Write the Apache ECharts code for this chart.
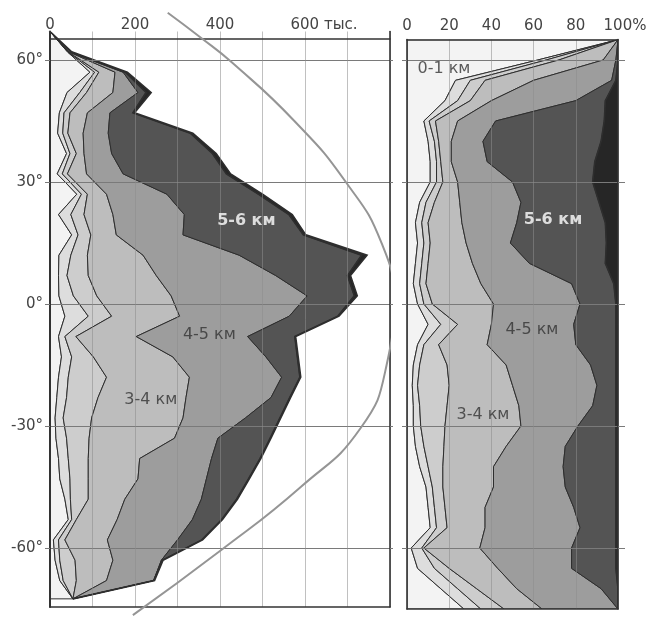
<!DOCTYPE html>
<html>
<head>
<meta charset="utf-8">
<script src="https://cdn.jsdelivr.net/npm/echarts@6/dist/echarts.min.js"></script>
<style>
  html, body { margin: 0; padding: 0; background: #ffffff; }
  #chart { width: 656px; height: 617px; }
</style>
</head>
<body>
<div id="chart"></div>
<script>
// Latitudes of the absolute-count profile (degrees)
const latCounts = [67, 62, 57, 52, 47, 42, 37, 32, 27, 22, 17, 12, 7, 2, -3, -8, -13, -18, -23, -28, -33, -38, -43, -48, -53, -58, -63, -68, -72.5];

// Counts per depth band, thousands
const cnt0_1 = [0, 41, 94, 40, 22, 18, 39, 17, 63, 20, 51, 21, 20, 21, 35, 20, 27, 20, 16, 12, 14, 20, 23, 35, 43, 8, 12, 23, 54];
const cnt1_2 = [0, 1, 11, 30, 11, 12, 8, 12, 11, 29, 15, 28, 20, 34, 55, 15, 24, 23, 23, 19, 25, 23, 24, 13, 8, 12, 11, 8, 0];
const cnt2_3 = [0, 1, 10, 16, 14, 12, 15, 12, 14, 31, 30, 39, 50, 55, 55, 26, 51, 90, 74, 67, 53, 47, 43, 42, 11, 15, 36, 31, 0];
const cnt3_4 = [0, 1, 38, 62, 41, 36, 18, 45, 45, 68, 60, 131, 160, 175, 160, 142, 187, 195, 207, 215, 201, 121, 117, 86, 96, 100, 89, 71, 0];
const cnt4_5 = [0, 1, 19, 59, 53, 59, 65, 86, 142, 168, 157, 226, 281, 320, 258, 262, 219, 217, 200, 147, 102, 169, 161, 180, 177, 165, 114, 111, 0];
const cnt5_6 = [0, 5, 5, 19, 54, 193, 237, 243, 215, 246, 283, 288, 169, 111, 114, 111, 74, 43, 44, 81, 123, 114, 99, 83, 69, 57, 2, 0, 0];
const cnt6_7 = [0, 1, 5, 12, 4, 6, 9, 10, 10, 8, 6, 13, 7, 7, 3, 2, 2, 2, 2, 2, 2, 2, 2, 2, 2, 2, 2, 2, 0];

// Latitudes of the percentage profile (degrees)
const latShares = [65, 60, 55, 50, 45, 40, 35, 30, 25, 20, 15, 10, 5, 0, -5, -10, -15, -20, -25, -30, -35, -40, -45, -50, -55, -60, -65, -70, -75];

// Share of each depth band, %
const pct0_1 = [100, 62, 23, 18, 8, 10, 11, 11, 6, 4, 5, 4, 3, 5, 10, 5, 3, 2.5, 3, 3, 4, 6, 9, 10, 11, 2, 5, 16, 27];
const pct1_2 = [0, 4, 7, 6, 2.5, 3, 3, 3, 3, 3, 3, 3, 3, 3, 6, 3, 3, 2.5, 3, 3.5, 4, 4, 3, 3, 3, 5, 8, 8, 8];
const pct2_3 = [0, 6, 7, 6, 3, 2, 2, 3, 4, 3, 3, 3, 3, 4, 8, 7, 13, 15, 13, 11.5, 9.5, 7, 5, 5, 5, 1, 7, 9, 11];
const pct3_4 = [0, 21, 23, 10, 10.5, 6, 5, 7, 12, 16, 17, 21, 26, 29, 16, 23, 28, 30, 34, 36, 29.5, 24, 24, 19, 18, 26.5, 23, 19, 18];
const pct4_5 = [0, 6, 37, 40, 18, 15, 17, 26, 29, 26, 21, 27, 43, 41, 39, 42, 40, 40, 35, 27, 28, 33, 34, 42, 45, 43.5, 35, 40, 36];
const pct5_6 = [0, 1, 2, 14, 51.5, 56, 51, 38, 37, 42, 45.5, 36, 20, 17, 20, 19, 12, 9, 11, 18, 24, 25, 24, 20, 17, 21, 21, 8, 0];
const pct6_7 = [0, 0, 1, 6, 6.5, 8, 11, 12, 9, 6, 5.5, 6, 2, 1, 1, 1, 1, 1, 1, 1, 1, 1, 1, 1, 1, 1, 1, 0, 0];

// Reference curve on the count panel: [thousands, latitude]
const refCurve = [[277, 71.6], [352, 65.7], [429, 59.3], [575, 45], [696, 30], [780, 15], [808, 1], [792, -15], [731, -30.5], [590, -45], [403, -60.5], [195, -76.5]];

// Axis tick labels
const countTicks = [0, 200, 400, 600];
const shareTicks = [0, 20, 40, 60, 80, 100];
const latTicks = [-60, -30, 0, 30, 60];

// Band annotations: [text, x value, latitude]
const countNotes = [['5-6 км', 462, 20.4], ['4-5 км', 375, -7.6], ['3-4 км', 237, -23.6]];
const shareNotes = [['0-1 км', 17.5, 57.8], ['5-6 км', 69.2, 20.7], ['4-5 км', 59.2, -6.4], ['3-4 км', 36, -27.3]];

const countBands = [cnt0_1, cnt1_2, cnt2_3, cnt3_4, cnt4_5, cnt5_6, cnt6_7];
const shareBands = [pct0_1, pct1_2, pct2_3, pct3_4, pct4_5, pct5_6, pct6_7];
const bandColors = ['#f3f3f3', '#dddddd', '#cdcdcd', '#bdbdbd', '#9d9d9d', '#545454', '#262626'];

const FONT = 'DejaVu Sans';

// Stacked band polygons drawn along the latitude axis
function bandSeries(lats, bands, xi, yi) {
  return {
    type: 'custom',
    xAxisIndex: xi,
    yAxisIndex: yi,
    clip: true,
    silent: true,
    z: 2,
    data: bands.map((b, k) => [k, 0]),
    renderItem(params, api) {
      const k = params.dataIndex;
      const lower = lats.map((lat, i) => {
        let s = 0;
        for (let j = 0; j < k; j++) s += bands[j][i];
        return s;
      });
      const pts = [];
      for (let i = 0; i < lats.length; i++) pts.push(api.coord([lower[i], lats[i]]));
      for (let i = lats.length - 1; i >= 0; i--) pts.push(api.coord([lower[i] + bands[k][i], lats[i]]));
      return {
        type: 'polygon',
        shape: { points: pts },
        style: { fill: bandColors[k], stroke: '#2e2e2e', lineWidth: k === bands.length - 1 ? 1.6 : 1, lineJoin: 'miter' }
      };
    }
  };
}

function noteSeries(notes, xi, yi) {
  return {
    type: 'scatter',
    xAxisIndex: xi,
    yAxisIndex: yi,
    symbolSize: 0,
    silent: true,
    z: 10,
    data: notes.map(n => ({
      name: n[0],
      value: [n[1], n[2]],
      label: {
        color: n[0] === '5-6 км' ? '#ffffff' : '#333333',
        fontWeight: n[0] === '5-6 км' ? 'bold' : 'normal'
      }
    })),
    label: {
      show: true,
      position: 'inside',
      formatter: p => p.name,
      fontFamily: FONT,
      fontSize: 16
    }
  };
}

const gridLineH = { show: true, lineStyle: { color: '#7a7a7a', width: 1 } };
const gridLineV = { show: true, lineStyle: { color: 'rgba(140,140,140,0.55)', width: 1 } };
const frameLine = { show: true, onZero: false, lineStyle: { color: '#333333', width: 1.6 } };
const labelFont = { fontFamily: FONT, fontSize: 15, color: '#444444' };

const PX_PER_DEG = 4.067;
const EQ_Y = 304;
const yOf = lat => EQ_Y - lat * PX_PER_DEG;

const leftMax = 67, leftMin = -74.5;
const rightMax = 65, rightMin = -75;

const option = {
  animation: false,
  backgroundColor: '#ffffff',
  grid: [
    { left: 50, width: 340, top: yOf(leftMax), height: yOf(leftMin) - yOf(leftMax), containLabel: false },
    { left: 407, width: 211, top: yOf(rightMax), height: yOf(rightMin) - yOf(rightMax), containLabel: false }
  ],
  xAxis: [
    {
      gridIndex: 0, type: 'value', position: 'top', min: 0, max: 800, interval: 100,
      offset: -(yOf(65.2) - yOf(leftMax)),
      axisLine: frameLine, axisTick: { show: false }, splitLine: gridLineV, z: 3,
      axisLabel: Object.assign({}, labelFont, {
        margin: 6,
        customValues: countTicks,
        formatter: v => v === 600 ? '{p| }600 тыс.' : String(v),
        rich: { p: { width: 38 } }
      })
    },
    {
      gridIndex: 0, type: 'value', position: 'bottom', min: 0, max: 800,
      axisLine: frameLine, axisTick: { show: false }, axisLabel: { show: false }, splitLine: { show: false }, z: 3
    },
    {
      gridIndex: 1, type: 'value', position: 'top', min: 0, max: 100, interval: 20,
      axisLine: frameLine, axisTick: { show: false }, splitLine: gridLineV, z: 3,
      axisLabel: Object.assign({}, labelFont, {
        margin: 6,
        customValues: shareTicks,
        formatter: v => v === 100 ? '{p| }100%' : String(v),
        rich: { p: { width: 14 } }
      })
    },
    {
      gridIndex: 1, type: 'value', position: 'bottom', min: 0, max: 100,
      axisLine: frameLine, axisTick: { show: false }, axisLabel: { show: false }, splitLine: { show: false }, z: 3
    }
  ],
  yAxis: [
    {
      gridIndex: 0, type: 'value', position: 'left', min: leftMin, max: leftMax,
      axisLine: { show: true, onZero: false, lineStyle: { color: '#333333', width: 2 } },
      axisTick: { show: true, length: 5, customValues: latTicks, lineStyle: { color: '#7a7a7a' } },
      axisLabel: Object.assign({}, labelFont, { margin: 7, customValues: latTicks, formatter: v => v + '°' }),
      splitLine: gridLineH, z: 3
    },
    {
      gridIndex: 0, type: 'value', position: 'right', min: leftMin, max: leftMax,
      axisLine: frameLine,
      axisTick: { show: true, length: 3, customValues: latTicks, lineStyle: { color: '#7a7a7a' } },
      axisLabel: { show: false }, splitLine: { show: false }, z: 3
    },
    {
      gridIndex: 1, type: 'value', position: 'left', min: rightMin, max: rightMax,
      axisLine: frameLine,
      axisTick: { show: true, length: 5, customValues: latTicks, lineStyle: { color: '#7a7a7a' } },
      axisLabel: { show: false }, splitLine: gridLineH, z: 3
    },
    {
      gridIndex: 1, type: 'value', position: 'right', min: rightMin, max: rightMax,
      axisLine: frameLine,
      axisTick: { show: true, length: 7, customValues: latTicks, lineStyle: { color: '#7a7a7a' } },
      axisLabel: { show: false }, splitLine: { show: false }, z: 3
    }
  ],
  series: [
    bandSeries(latCounts, countBands, 0, 0),
    bandSeries(latShares, shareBands, 2, 2),
    {
      type: 'line', xAxisIndex: 0, yAxisIndex: 0, data: refCurve, smooth: 0.5,
      symbol: 'none', clip: false, silent: true, z: 4,
      lineStyle: { color: '#959595', width: 2 }
    },
    noteSeries(countNotes, 0, 0),
    noteSeries(shareNotes, 2, 2)
  ]
};

const chart = echarts.init(document.getElementById('chart'), null, { renderer: 'canvas' });
chart.setOption(option);
</script>
</body>
</html>
